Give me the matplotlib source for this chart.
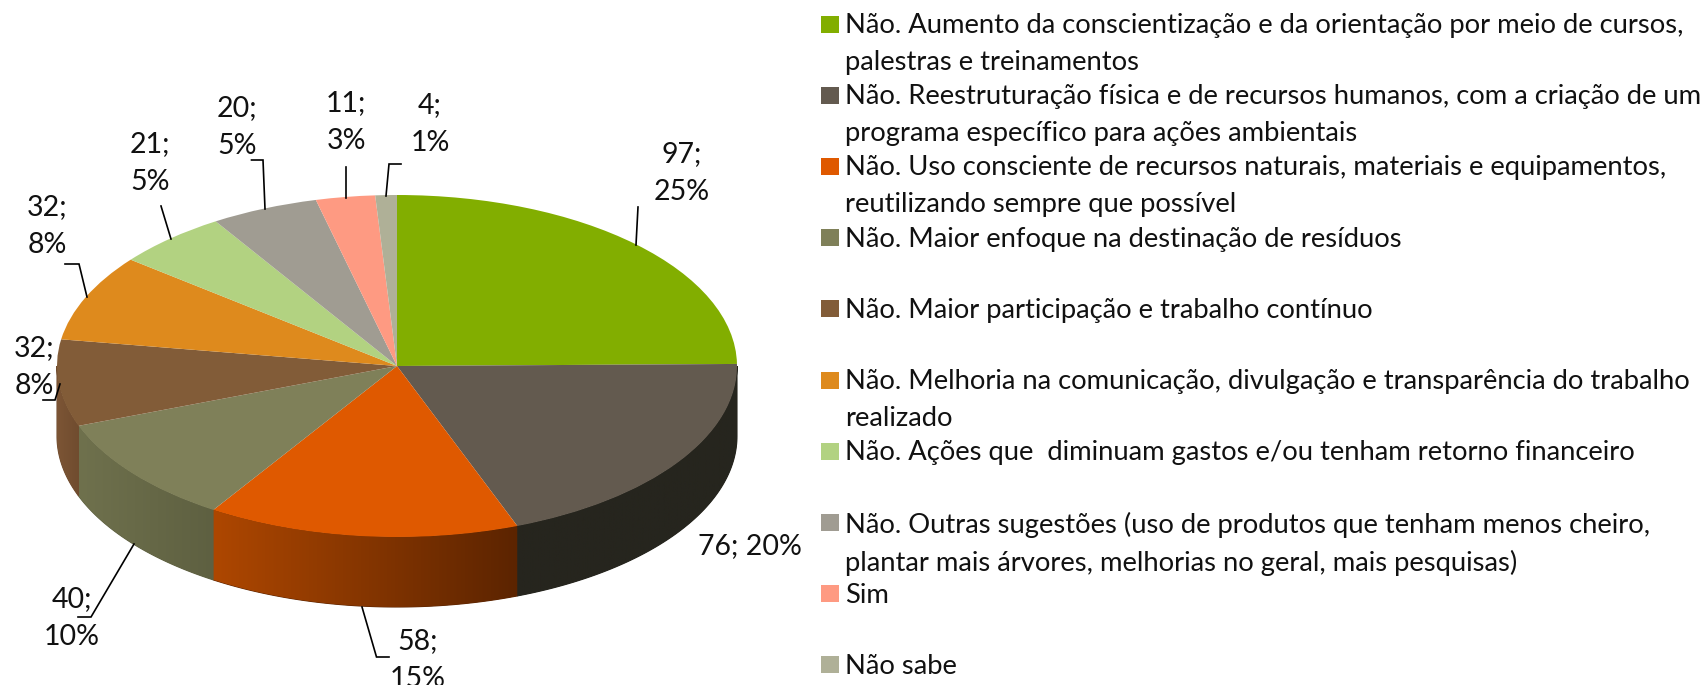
import numpy as np
import matplotlib
matplotlib.use('Agg')
import matplotlib.pyplot as plt
from matplotlib.colors import LinearSegmentedColormap
from matplotlib.patches import Polygon, Rectangle

W, H = 1701, 685

values = [97, 76, 58, 40, 32, 32, 21, 20, 11, 4]
percents = [25, 20, 15, 10, 8, 8, 5, 5, 3, 1]
top_colors = ['#82AE00', '#635A4F', '#DF5900', '#7F8059', '#825C38',
              '#DE8A1D', '#B2D281', '#A09C92', '#FE9A82', '#AFB097']
side_left = ['#82AE00', '#26251E', '#AE4700', '#6F714D', '#7C5535',
             '#DE8A1D', '#B2D281', '#A09C92', '#FE9A82', '#AFB097']
side_right = ['#82AE00', '#26251E', '#5C2400', '#5E6041', '#704C2F',
              '#DE8A1D', '#B2D281', '#A09C92', '#FE9A82', '#AFB097']
legend_labels = [
    'Não. Aumento da conscientização e da orientação por meio de cursos,\npalestras e treinamentos',
    'Não. Reestruturação física e de recursos humanos, com a criação de um\nprograma específico para ações ambientais',
    'Não. Uso consciente de recursos naturais, materiais e equipamentos,\nreutilizando sempre que possível',
    'Não. Maior enfoque na destinação de resíduos',
    'Não. Maior participação e trabalho contínuo',
    'Não. Melhoria na comunicação, divulgação e transparência do trabalho\nrealizado',
    'Não. Ações que  diminuam gastos e/ou tenham retorno financeiro',
    'Não. Outras sugestões (uso de produtos que tenham menos cheiro,\nplantar mais árvores, melhorias no geral, mais pesquisas)',
    'Sim',
    'Não sabe',
]

# label centre (px) and leader line (px) for each slice
label_pos = [(682, 173), (750, 546), (418, 660), (72, 618), (34, 367),
             (47, 226), (150, 163), (237, 127), (346, 122), (430, 124)]
leaders = [
    [(638, 207), (636, 245)],
    None,
    [(362, 607), (376.5, 657), (389, 657)],
    [(134, 544), (91, 617), (78, 617)],
    [(43, 400), (55, 400), (60, 384)],
    [(65, 264), (79, 264), (87, 297)],
    [(161, 206), (171, 239)],
    [(251.5, 160), (263, 160), (265, 209)],
    [(346, 167), (346, 198)],
    [(401, 164), (389, 164), (386, 196)],
]

cx, cy, rx, ry, depth = 397, 366, 340, 171, 70

fig = plt.figure(figsize=(W / 100, H / 100), dpi=100, facecolor='white')
ax = fig.add_axes([0, 0, 1, 1])

wedges, _ = ax.pie(values, colors=top_colors, startangle=90, counterclock=False,
                   wedgeprops={'linewidth': 0})
for w in wedges:
    w.set_zorder(5)
ax.set_aspect('auto')
xlim = (-cx / rx, (W - cx) / rx)
ylim = ((cy - H) / ry, cy / ry)
ax.axis('off')

# side wall, only the front half of the cylinder shows
dz = depth / ry
edges = np.cumsum([0] + values) / sum(values) * 2 * np.pi
for i in range(len(values)):
    a0 = max(edges[i], np.pi / 2)
    a1 = min(edges[i + 1], 3 * np.pi / 2)
    if a1 <= a0:
        continue
    t = np.linspace(a0, a1, 80)
    x, y = np.sin(t), np.cos(t)
    pts = np.r_[np.c_[x, y], np.c_[x[::-1], y[::-1] - dz]]
    # orange wedge runs light to dark going right
    xl, xr = x.min(), x.max()
    cmap = LinearSegmentedColormap.from_list('s', [side_left[i], side_right[i]])
    im = ax.imshow(np.linspace(0, 1, 256)[None, :], cmap=cmap, aspect='auto',
                   extent=(xl, xr, y.min() - dz, y.max()), zorder=2)
    # base under the gradient so no white seam shows between slices
    patch = Polygon(pts, closed=True, facecolor=side_right[i], edgecolor=side_right[i],
                    lw=0.8, zorder=1)
    ax.add_patch(patch)
    im.set_clip_path(patch)

ax.set_xlim(xlim)
ax.set_ylim(ylim)
ax.set_aspect('auto')

over = fig.add_axes([0, 0, 1, 1])
over.set_xlim(0, W)
over.set_ylim(H, 0)
over.axis('off')

for i in range(len(values)):
    if i == 1:
        txt = f'{values[i]}; {percents[i]}%'
    else:
        txt = f'{values[i]};\n{percents[i]}%'
    over.text(*label_pos[i], txt, ha='center', va='center', fontsize=20.5,
              family='Lato', color='#111111', linespacing=1.55)
    if leaders[i]:
        xs, ys = zip(*leaders[i])
        over.plot(xs, ys, color='black', lw=1.2, solid_joinstyle='miter')

# legend, every entry takes two lines of height
for i, lab in enumerate(legend_labels):
    y = 24 + i * 71.2
    over.add_patch(Rectangle((821, y - 8.5), 17.5, 17, facecolor=top_colors[i], edgecolor='none'))
    over.text(845, y - 11, lab, ha='left', va='top', fontsize=19.7, family='Lato',
              color='#111111', linespacing=1.6)

fig.savefig('out.png', dpi=100)
